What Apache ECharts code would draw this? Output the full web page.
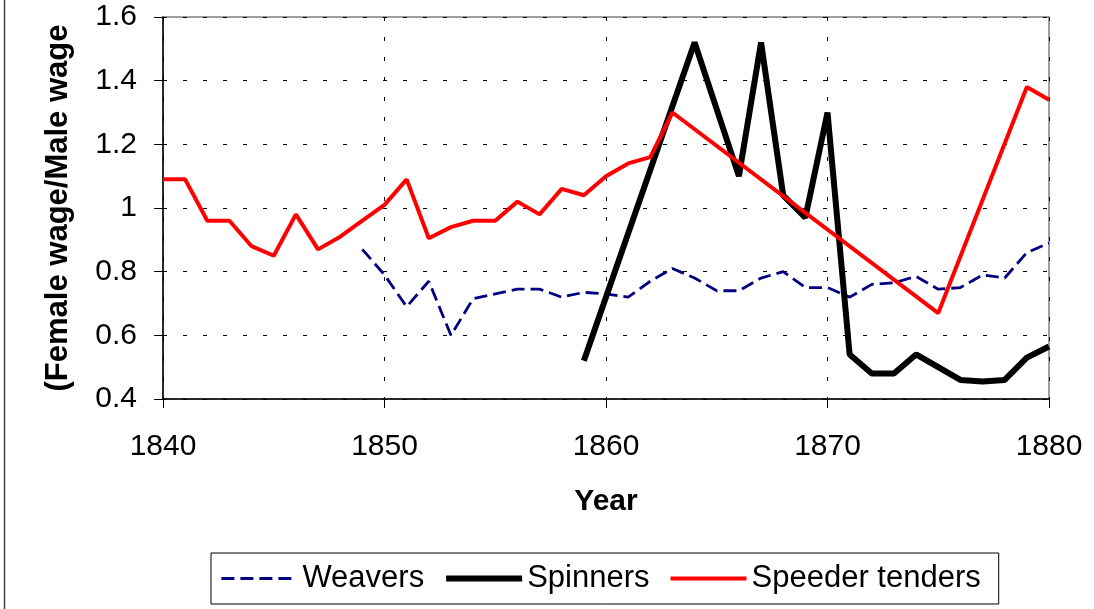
<!DOCTYPE html>
<html>
<head>
<meta charset="utf-8">
<script src="https://cdn.jsdelivr.net/npm/echarts@6/dist/echarts.min.js"></script>
<style>
html,body{margin:0;padding:0;background:#fff;}
#c{width:1094px;height:609px;}
</style>
</head>
<body>
<div id="c"></div>
<script>
const years = [1840,1841,1842,1843,1844,1845,1846,1847,1848,1849,1850,1851,1852,1853,1854,1855,1856,1857,1858,1859,1860,1861,1862,1863,1864,1865,1866,1867,1868,1869,1870,1871,1872,1873,1874,1875,1876,1877,1878,1879,1880];
const weavers = [null,null,null,null,null,null,null,null,null,0.87,0.79,0.69,0.77,0.60,0.715,0.73,0.745,0.745,0.72,0.735,0.73,0.72,0.77,0.81,0.78,0.74,0.74,0.78,0.80,0.75,0.75,0.72,0.76,0.765,0.785,0.745,0.75,0.79,0.78,0.86,0.89];
const spinners = [null,null,null,null,null,null,null,null,null,null,null,null,null,null,null,null,null,null,null,0.52,null,null,null,null,1.52,null,1.10,1.52,1.04,0.97,1.30,0.54,0.48,0.48,0.54,0.50,0.46,0.455,0.46,0.53,0.565];
const speeder = [1.09,1.09,0.96,0.96,0.88,0.85,0.98,0.87,0.91,0.96,1.01,1.09,0.905,0.94,0.96,0.96,1.02,0.98,1.06,1.04,1.10,1.14,1.16,1.30,null,null,null,null,null,null,null,null,null,null,null,0.67,null,null,null,1.38,1.34];
const seriesNames = ['Weavers','Spinners','Speeder tenders'];
const yTicks = [0.4,0.6,0.8,1,1.2,1.4,1.6];
const xTicks = [1840,1850,1860,1870,1880];

function pairs(vals){
  const out=[];
  years.forEach((y,i)=>{ if(vals[i]!==null) out.push([y, vals[i]]); });
  return out;
}
const FONT = 'Liberation Sans, Arial, sans-serif';
const styles = [
  {color:'#000080',width:2.8,type:[13,6]},
  {color:'#000',width:6,type:'solid'},
  {color:'#ff0000',width:4,type:'solid'}
];
const chart = echarts.init(document.getElementById('c'), null, {renderer:'canvas'});
chart.setOption({
  animation:false,
  backgroundColor:'#fff',
  grid:{left:163,right:45,top:17,bottom:210,show:true,borderColor:'#808080',borderWidth:1.5,backgroundColor:'transparent'},
  xAxis:{
    type:'value',min:xTicks[0],max:xTicks[xTicks.length-1],interval:10,
    name:'Year',nameLocation:'middle',nameGap:88,
    nameTextStyle:{fontFamily:FONT,fontSize:30,fontWeight:'bold',color:'#000'},
    axisLine:{show:true,lineStyle:{color:'#000',width:1.5}},
    axisTick:{show:true,length:9,lineStyle:{color:'#000',width:1}},
    axisLabel:{fontFamily:FONT,fontSize:30,color:'#000',margin:33,formatter:v=>String(v)},
    splitLine:{show:true,lineStyle:{color:'#000',type:[4,16],width:1}}
  },
  yAxis:{
    type:'value',min:yTicks[0],max:yTicks[yTicks.length-1],interval:0.2,
    name:'(Female wage/Male wage',nameLocation:'middle',nameGap:89,nameRotate:90,
    nameTextStyle:{fontFamily:FONT,fontSize:31,fontWeight:'bold',color:'#000'},
    axisLine:{show:true,lineStyle:{color:'#000',width:1.5}},
    axisTick:{show:true,length:9,lineStyle:{color:'#000',width:1}},
    axisLabel:{fontFamily:FONT,fontSize:30,color:'#000',margin:26},
    splitLine:{show:true,lineStyle:{color:'#000',type:[4,16],width:1}}
  },
  legend:{
    show:true,
    left:211,top:553,
    data:seriesNames.map((n,i)=>({name:n,itemStyle:{opacity:0},lineStyle:{color:styles[i].color,width:styles[i].width,type:styles[i].type}})),
    itemWidth:76,itemHeight:14,itemGap:19,
    padding:[10,18,10,9],
    borderColor:'#000',borderWidth:1,
    textStyle:{fontFamily:FONT,fontSize:31,color:'#000'}
  },
  series:seriesNames.map((n,i)=>({
    name:n,type:'line',data:pairs([weavers,spinners,speeder][i]),symbol:'none',connectNulls:true,
    lineStyle:styles[i],itemStyle:{color:styles[i].color},z:3+i
  })),
  graphic:[
    {type:'line',shape:{x1:4.5,y1:0,x2:4.5,y2:609},style:{stroke:'#404040',lineWidth:1.5}}
  ]
});
</script>
</body>
</html>
